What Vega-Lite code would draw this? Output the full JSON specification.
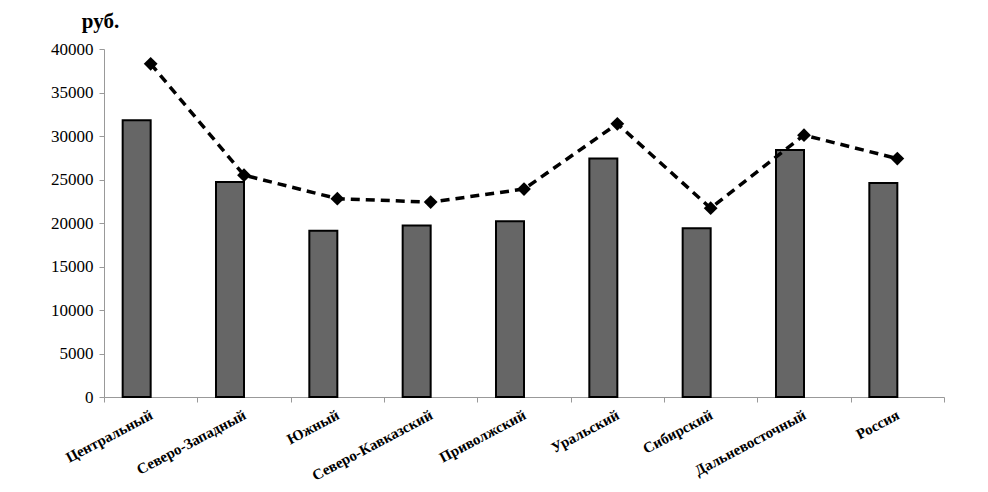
{
  "$schema": "https://vega.github.io/schema/vega-lite/v6.json",
  "width": 840,
  "height": 348,
  "autosize": {"type": "none"},
  "padding": {"left": 104, "top": 49, "right": 44, "bottom": 95},
  "background": "white",
  "config": {
    "view": {"stroke": null},
    "font": "Liberation Serif, Times New Roman, serif",
    "axis": {"labelFont": "Liberation Serif, Times New Roman, serif", "titleFont": "Liberation Serif, Times New Roman, serif"}
  },
  "data": {
    "values": [
      {"region": "Центральный", "bar": 31800, "line": 38300},
      {"region": "Северо-Западный", "bar": 24700, "line": 25500},
      {"region": "Южный", "bar": 19100, "line": 22800},
      {"region": "Северо-Кавказский", "bar": 19700, "line": 22400},
      {"region": "Приволжский", "bar": 20200, "line": 23900},
      {"region": "Уральский", "bar": 27400, "line": 31400},
      {"region": "Сибирский", "bar": 19400, "line": 21700},
      {"region": "Дальневосточный", "bar": 28400, "line": 30100},
      {"region": "Россия", "bar": 24600, "line": 27400}
    ]
  },
  "encoding": {
    "x": {
      "field": "region",
      "type": "nominal",
      "sort": null,
      "scale": {"paddingInner": 0, "paddingOuter": 0},
      "axis": {
        "title": null,
        "tickBand": "extent",
        "labelAngle": -28,
        "labelAlign": "right",
        "labelBaseline": "top",
        "labelFontSize": 15,
        "labelFontWeight": "bold",
        "labelColor": "black",
        "labelPadding": 5,
        "domainColor": "#999999",
        "tickColor": "#999999",
        "tickSize": 5,
        "labelOffset": -3
      }
    }
  },
  "layer": [
    {
      "mark": {"type": "bar", "width": 28, "xOffset": -14, "fill": "#666666", "stroke": "black", "strokeWidth": 2},
      "encoding": {
        "y": {
          "field": "bar",
          "type": "quantitative",
          "scale": {"domain": [0, 40000], "nice": false},
          "axis": {
            "title": "руб.",
            "titleAngle": 0,
            "titleX": -4,
            "titleY": -22,
            "titleAlign": "center",
            "titleBaseline": "alphabetic",
            "titleFontSize": 21,
            "titleFontWeight": "bold",
            "titleColor": "black",
            "values": [0, 5000, 10000, 15000, 20000, 25000, 30000, 35000, 40000],
            "format": "d",
            "grid": false,
            "labelFontSize": 17,
            "labelColor": "black",
            "labelPadding": 6,
            "domainColor": "#999999",
            "tickColor": "#999999",
            "tickSize": 5
          }
        }
      }
    },
    {
      "mark": {"type": "line", "color": "black", "strokeWidth": 3.5, "strokeDash": [9, 6]},
      "encoding": {
        "y": {"field": "line", "type": "quantitative"}
      }
    },
    {
      "mark": {"type": "point", "shape": "diamond", "filled": true, "color": "black", "size": 190, "opacity": 1},
      "encoding": {
        "y": {"field": "line", "type": "quantitative"}
      }
    }
  ]
}
